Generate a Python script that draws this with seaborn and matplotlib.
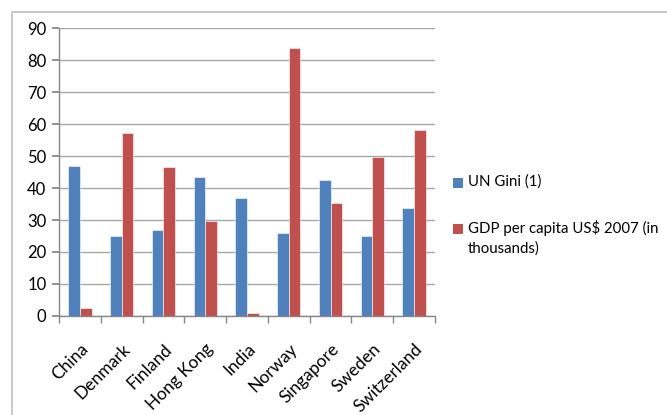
import matplotlib
matplotlib.use("Agg")
import matplotlib.pyplot as plt
import seaborn as sns
import pandas as pd
from matplotlib.patches import Rectangle
from matplotlib.ticker import MultipleLocator

countries = ["China", "Denmark", "Finland", "Hong Kong", "India", "Norway",
             "Singapore", "Sweden", "Switzerland"]
gini = [47.0, 24.9, 26.9, 43.4, 36.8, 25.8, 42.5, 25.0, 33.7]
gdp = [2.5, 57.2, 46.6, 29.6, 1.0, 83.8, 35.2, 49.6, 58.1]
series_names = ["UN Gini (1)", "GDP per capita US$ 2007 (in\nthousands)"]
colors = ["#4F81BD", "#C0504D"]

df = pd.DataFrame({
    "country": countries * 2,
    "value": gini + gdp,
    "series": [series_names[0]] * len(countries) + [series_names[1]] * len(countries),
})

sns.set_theme(style="white")
plt.rcParams["font.family"] = ["Lato", "DejaVu Sans"]

W, H = 667, 415
fig = plt.figure(figsize=(6.67, 4.15), dpi=100)
ax = fig.add_axes([59 / W, 1 - 316 / H, (435 - 59) / W, (316 - 28) / H])

sns.barplot(data=df, x="country", y="value", hue="series", palette=colors,
            width=0.56, ax=ax, legend=False, saturation=1,
            edgecolor="white", linewidth=0.4)

ax.set_ylim(0, 90)
ax.set_xlim(-0.5, len(countries) - 0.5)
ax.yaxis.set_major_locator(MultipleLocator(10))
ax.grid(axis="y", color="#A6A6A6", linewidth=1)
ax.set_axisbelow(True)
ax.set_xlabel("")
ax.set_ylabel("")

for s in ["top", "right"]:
    ax.spines[s].set_visible(False)
for s in ["left", "bottom"]:
    ax.spines[s].set_color("#868686")
    ax.spines[s].set_linewidth(1)

ax.tick_params(axis="y", which="major", left=True, length=5, color="#868686",
               labelsize=12, pad=4, labelcolor="black")
ax.set_xticks(range(len(countries)))
ax.set_xticklabels(countries, rotation=45, ha="right", rotation_mode="anchor",
                   fontsize=12.5, color="black")
ax.tick_params(axis="x", which="major", length=0, pad=18)
ax.set_xticks([i - 0.5 for i in range(len(countries) + 1)], minor=True)
ax.tick_params(axis="x", which="minor", bottom=True, length=5, color="#868686")

# legend (manual placement in figure pixels)
legend_rows = [(183, series_names[0], colors[0]), (229, series_names[1], colors[1])]
for yc, label, col in legend_rows:
    fig.patches.append(Rectangle((453 / W, 1 - (yc + 5) / H), 10 / W, 10 / H,
                                 transform=fig.transFigure, facecolor=col,
                                 edgecolor="none"))
    fig.text(468 / W, 1 - (yc - 9) / H, label, ha="left", va="top",
             fontsize=10.8, color="black", linespacing=1.45)

fig.patches.append(Rectangle((11.5 / W, -0.1), 1.2, 1 - 12 / H + 0.1,
                             transform=fig.transFigure, fill=False,
                             edgecolor="#BFBFBF", linewidth=1.2))

fig.savefig("out.png", dpi=100)
